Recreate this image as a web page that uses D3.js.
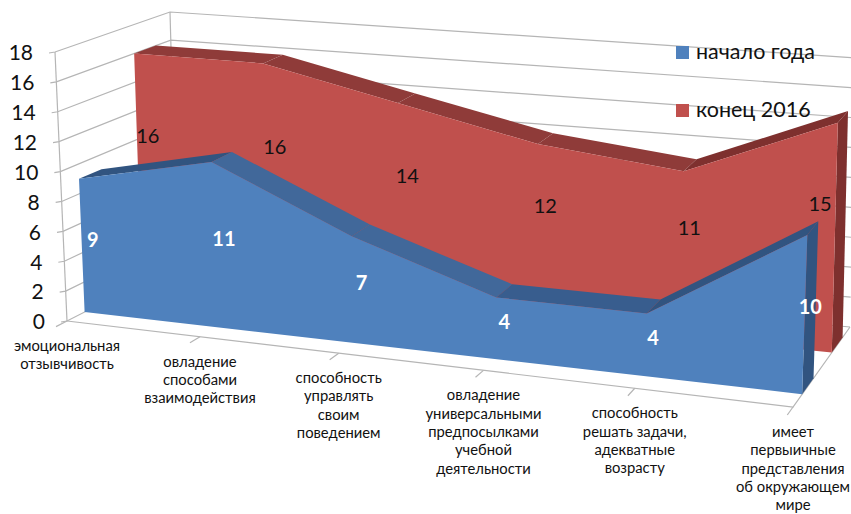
<!DOCTYPE html>
<html>
<head>
<meta charset="utf-8">
<script src="https://cdn.jsdelivr.net/npm/d3@7"></script>
<style>
  html, body { margin: 0; background: #fff; }
  text { font-family: Lato, "Open Sans", "Noto Sans", sans-serif; fill: #111; }
</style>
</head>
<body>
<div id="chart"></div>
<script>
const categories = [
  ['эмоциональная', 'отзывчивость'],
  ['овладение', 'способами', 'взаимодействия'],
  ['способность', 'управлять', 'своим', 'поведением'],
  ['овладение', 'универсальными', 'предпосылками', 'учебной', 'деятельности'],
  ['способность', 'решать задачи,', 'адекватные', 'возрасту'],
  ['имеет', 'первыичные', 'представления', 'об окружающем', 'мире']
];
const startValues = [9, 11, 7, 4, 4, 10];
const endValues = [16, 16, 14, 12, 11, 15];
const yTicks = [0, 2, 4, 6, 8, 10, 12, 14, 16, 18];

const width = 851, height = 514;

// corners of the 3d box on screen: front-left, front-right, back-right, back-left
const floorQuad = [[67, 321], [793, 407], [850, 327], [177, 265]];
const topQuad = [[55, 52], [803, 117], [856, 58], [170, 12]];
const perspective = -0.103; // categories spread out a bit towards the right

function quadMap(q) {
  return (u, v) => {
    const fx = q[0][0] + (q[1][0] - q[0][0]) * u, fy = q[0][1] + (q[1][1] - q[0][1]) * u;
    const bx = q[3][0] + (q[2][0] - q[3][0]) * u, by = q[3][1] + (q[2][1] - q[3][1]) * u;
    return [fx + (bx - fx) * v, fy + (by - fy) * v];
  };
}

const floorMap = quadMap(floorQuad);
const topMap = quadMap(topQuad);

const xScale = d3.scalePoint().domain(d3.range(categories.length)).range([0, 1]);
const yScale = d3.scaleLinear().domain([0, 18]).range([0, 1]);

function project(i, z, value) {
  const s = xScale(i);
  const u = s * (1 + perspective) / (1 + perspective * s);
  const a = floorMap(u, z), b = topMap(u, z);
  const t = yScale(value);
  return [a[0] + (b[0] - a[0]) * t, a[1] + (b[1] - a[1]) * t];
}

const svg = d3.select('#chart').append('svg')
  .attr('width', width).attr('height', height)
  .style('display', 'block');

const line = d3.line();
const lastIdx = categories.length - 1;

// walls
const grid = svg.append('g').attr('fill', 'none').attr('stroke', '#b5b5b5').attr('stroke-width', 1.2);
yTicks.forEach(t => {
  grid.append('path').attr('d', line([
    [project(0, 0, t)[0] - 6, project(0, 0, t)[1] + 1],
    project(0, 0, t), project(0, 1, t), project(lastIdx, 1, t)
  ]));
});
grid.append('path').attr('d', line([project(0, 0, 0), project(0, 0, 18)]));
grid.append('path').attr('d', line([project(0, 1, 0), project(0, 1, 18)]));
grid.append('path').attr('d', line([project(0, 0, 0), project(lastIdx, 0, 0), project(lastIdx, 1, 0)]));
categories.forEach((c, i) => {
  grid.append('path').attr('d', line([project(i, 0, 0), project(i, -0.1, 0)]));
});

// colour of a top face follows the slope of the segment
function drawSeries(values, z0, z1, colors) {
  const g = svg.append('g');
  const last = values.length - 1;
  // right end
  g.append('path').attr('fill', colors.side).attr('d', line([
    project(last, z0, values[last]), project(last, z1, values[last]),
    project(last, z1, 0), project(last, z0, 0)
  ]) + 'Z');
  // top faces
  values.slice(0, -1).forEach((v, i) => {
    const next = values[i + 1];
    const fill = next < v - 1 ? colors.fall : next > v + 1 ? colors.side : colors.flat;
    g.append('path').attr('fill', fill).attr('d', line([
      project(i, z0, v), project(i, z1, v),
      project(i + 1, z1, next), project(i + 1, z0, next)
    ]) + 'Z');
  });
  // front face
  const front = values.map((v, i) => project(i, z0, v));
  g.append('path').attr('fill', colors.front).attr('d', line([
    project(0, z0, 0), ...front, project(last, z0, 0)
  ]) + 'Z');
}

const redZ = [0.68, 0.87];
const blueZ = [0.16, 0.36];
drawSeries(endValues, redZ[0], redZ[1], {front: '#c0504d', flat: '#8f3b39', fall: '#8f3b39', side: '#7e302e'});
drawSeries(startValues, blueZ[0], blueZ[1], {front: '#4f81bd', flat: '#385d8e', fall: '#41689a', side: '#315480'});

// data labels, kept inside the front of the series at the right end
function drawLabels(values, z, level, color, weight) {
  values.forEach((v, i) => {
    const p = project(i, z, v * level);
    svg.append('text')
      .attr('x', Math.min(p[0], 820)).attr('y', p[1])
      .attr('dy', '0.35em')
      .attr('text-anchor', 'middle')
      .attr('font-size', 20)
      .attr('font-weight', weight)
      .style('fill', color)
      .text(v);
  });
}
drawLabels(endValues, (redZ[0] + redZ[1]) / 2, 0.62, '#111', 400);
drawLabels(startValues, (blueZ[0] + blueZ[1]) / 2, 0.5, '#fff', 700);

// y axis labels
yTicks.forEach(t => {
  const p = project(0, 0, t);
  svg.append('text')
    .attr('x', p[0] - 22).attr('y', p[1] + 1)
    .attr('dy', '0.35em')
    .attr('text-anchor', 'end')
    .attr('font-size', 21)
    .text(t);
});

// category labels, wrapped by hand as in the original
categories.forEach((lines, i) => {
  const p = project(i, 0, 0);
  const t = svg.append('text')
    .attr('text-anchor', 'middle')
    .attr('font-size', 14.8);
  lines.forEach((l, k) => {
    t.append('tspan')
      .attr('x', p[0])
      .attr('y', p[1] + 30 + k * 18.3)
      .text(l);
  });
});

// legend
const legendItems = [
  {name: 'начало года', color: '#4f81bd', y: 46},
  {name: 'конец 2016', color: '#c0504d', y: 104}
];
const legend = svg.append('g');
legendItems.forEach(d => {
  legend.append('rect')
    .attr('x', 676).attr('y', d.y)
    .attr('width', 13).attr('height', 13)
    .attr('fill', d.color);
  legend.append('text')
    .attr('x', 696).attr('y', d.y + 13)
    .attr('font-size', 21.5)
    .text(d.name);
});
</script>
</body>
</html>
